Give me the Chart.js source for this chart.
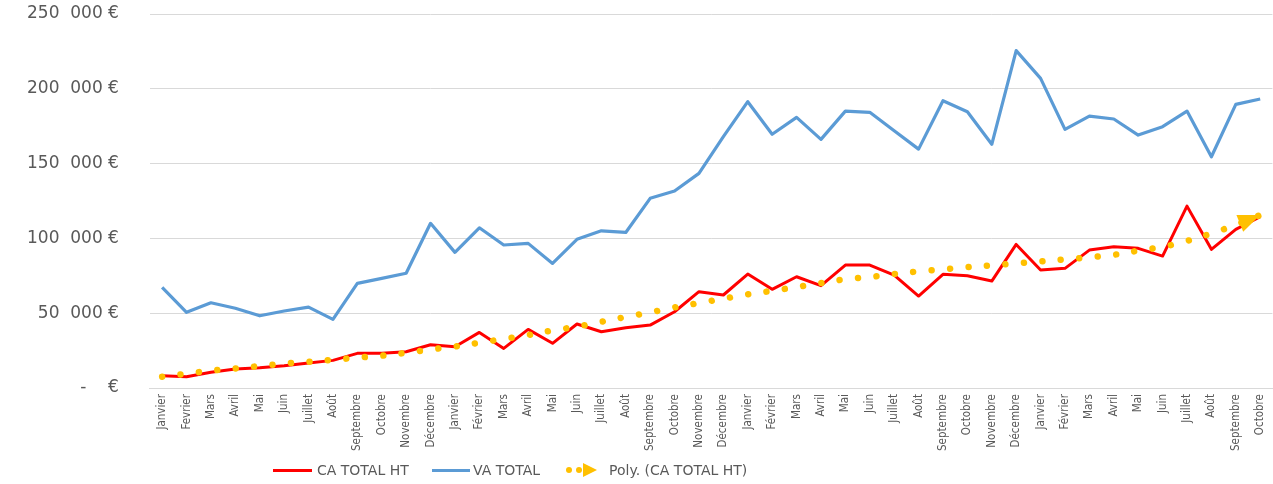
<!DOCTYPE html>
<html>
<head>
<meta charset="utf-8">
<script src="https://cdn.jsdelivr.net/npm/chart.js@4"></script>
<style>
  html, body { margin: 0; padding: 0; background: #fff; overflow: hidden; }
  #wrap { position: relative; width: 1280px; height: 484px; }
  #legend { position: absolute; left: 0; top: 0; width: 1280px; height: 484px; pointer-events: none;
    font-family: "DejaVu Sans", sans-serif; font-size: 14px; color: #595959; }
  .item { position: absolute; top: 461px; height: 18px; line-height: 18px; white-space: nowrap; }
  .ln { position: absolute; top: 8px; height: 3px; }
  .txt { position: absolute; top: 0; }
  .dot { position: absolute; top: 6px; width: 6px; height: 6px; border-radius: 50%; background: #FFC000; }
  .tri { position: absolute; top: 2px; width: 0; height: 0; border-top: 7px solid transparent; border-bottom: 7px solid transparent; border-left: 14px solid #FFC000; }
</style>
</head>
<body>
<div id="wrap">
  <canvas id="c" width="1280" height="484"></canvas>
  <div id="legend">
    <div class="item" style="left:273px"><div class="ln" style="left:0;width:39px;background:#FF0000"></div><span class="txt" style="left:44px">CA TOTAL HT</span></div>
    <div class="item" style="left:432px"><div class="ln" style="left:0;width:38px;background:#5B9BD5"></div><span class="txt" style="left:41px">VA TOTAL</span></div>
    <div class="item" style="left:566px"><div class="dot" style="left:0"></div><div class="dot" style="left:10px"></div><div class="tri" style="left:17px"></div><span class="txt" style="left:43px">Poly. (CA TOTAL HT)</span></div>
  </div>
</div>
<script>
const months = ["Janvier","Fevrier","Mars","Avril","Mai","Juin","Juillet","Août","Septembre","Octobre","Novembre","Décembre",
  "Janvier","Février","Mars","Avril","Mai","Juin","Juillet","Août","Septembre","Octobre","Novembre","Décembre",
  "Janvier","Février","Mars","Avril","Mai","Juin","Juillet","Août","Septembre","Octobre","Novembre","Décembre",
  "Janvier","Février","Mars","Avril","Mai","Juin","Juillet","Août","Septembre","Octobre"];

const caTotalHT = [8200,7600,10500,12700,13600,14900,16700,18500,23200,23200,24300,28900,
  27600,37200,26500,39200,29900,42800,37600,40300,42100,51000,64400,62200,
  76200,66000,74400,68400,82200,82200,75500,61500,76000,75100,71500,96000,
  78900,80000,92200,94400,93400,88200,121600,92700,106100,114500];

const vaTotal = [67300,50600,57000,53300,48300,51500,54100,45900,70000,73300,76700,110100,
  90700,107100,95600,96700,83300,99400,105100,104000,126800,131700,143500,168000,
  191400,169600,180900,166200,185100,184300,172000,159700,192000,184700,162900,225500,
  207000,172900,181800,179800,169100,174700,185100,154600,189600,193200];

const polyCA = [7600,9600,11600,13100,14700,16300,17600,18900,20300,21600,23600,25800,
  27800,30300,32800,35400,38500,41000,44300,47500,50600,53900,56800,59700,
  62600,65000,67500,70200,72700,74200,76200,78000,79300,80900,82000,83300,
  84700,86000,87400,89100,91800,94400,98300,103400,109000,115600];

const yTicks = [0,50000,100000,150000,200000,250000];

function fmtEuro(v) {
  if (v === 0) return "-\u2007\u2007€";
  const s = String(Math.round(v));
  const g = s.replace(/\B(?=(\d{3})+(?!\d))/g, "\u2007");
  return g + " €";
}

const arrowPlugin = {
  id: 'arrowHead',
  afterDatasetsDraw(chart) {
    const idx = chart.data.datasets.findIndex(d => d.label === 'Poly. (CA TOTAL HT)');
    const meta = chart.getDatasetMeta(idx);
    const pts = meta.data;
    const p1 = pts[pts.length - 1], p0 = pts[pts.length - 2];
    const ang = Math.atan2(p1.y - p0.y, p1.x - p0.x);
    const ctx = chart.ctx;
    ctx.save();
    ctx.translate(p1.x, p1.y);
    ctx.rotate(ang);
    ctx.fillStyle = '#FFC000';
    ctx.beginPath();
    ctx.moveTo(0, 0);
    ctx.lineTo(-22, -9);
    ctx.lineTo(-22, 9);
    ctx.closePath();
    ctx.fill();
    ctx.restore();
  }
};

new Chart(document.getElementById('c'), {
  type: 'line',
  data: {
    labels: months,
    datasets: [
      { label: 'CA TOTAL HT', data: caTotalHT, borderColor: '#FF0000', borderWidth: 3, pointRadius: 0,
        borderJoinStyle: 'round', order: 2 },
      { label: 'VA TOTAL', data: vaTotal, borderColor: '#5B9BD5', borderWidth: 3.2, pointRadius: 0,
        borderJoinStyle: 'round', order: 3 },
      { label: 'Poly. (CA TOTAL HT)', data: polyCA, borderColor: '#FFC000', borderWidth: 6.5, pointRadius: 0,
        borderDash: [0.01, 18.5], borderCapStyle: 'round', tension: 0.4, order: 1 }
    ]
  },
  options: {
    responsive: false,
    animation: false,
    events: [],
    layout: { padding: { left: 25, right: 0, top: 14, bottom: 27 } },
    plugins: { legend: { display: false }, tooltip: { enabled: false } },
    scales: {
      x: {
        offset: true,
        grid: { display: false, drawTicks: false },
        border: { display: true, color: '#D9D9D9', width: 1 },
        ticks: {
          autoSkip: false, maxRotation: 90, minRotation: 90, padding: 6,
          color: '#595959',
          font: { family: '"Liberation Sans Narrow", "DejaVu Sans Condensed", sans-serif', size: 11.5 }
        }
      },
      y: {
        min: 0, max: 250000,
        afterBuildTicks(axis) { axis.ticks = yTicks.map(v => ({ value: v })); },
        grid: { color: '#D9D9D9', lineWidth: 1, drawTicks: true, tickLength: 29, tickColor: 'rgba(0,0,0,0)' },
        border: { display: false },
        ticks: {
          padding: 2, color: '#595959',
          font: { family: '"DejaVu Sans", sans-serif', size: 17 },
          callback: (v) => fmtEuro(v)
        }
      }
    }
  },
  plugins: [arrowPlugin]
});
</script>
</body>
</html>
